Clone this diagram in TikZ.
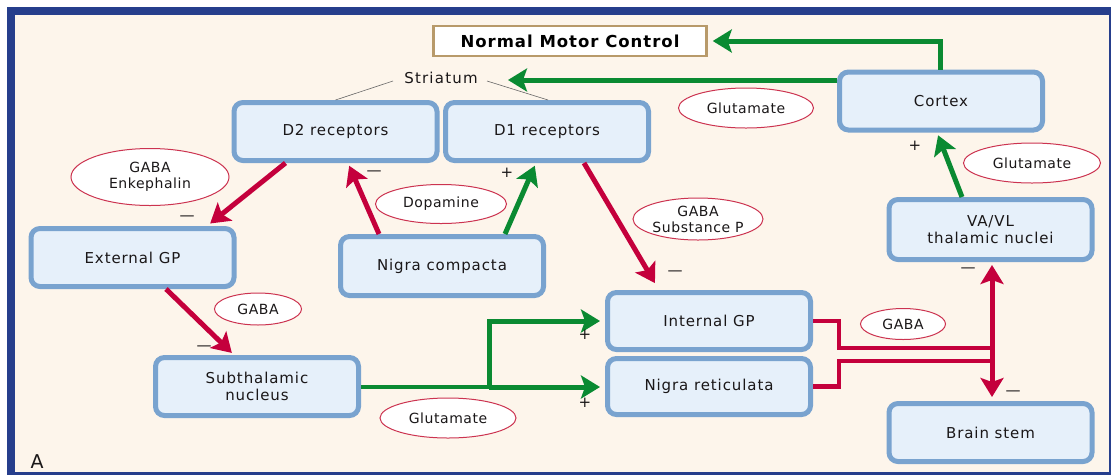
\documentclass[tikz,border=0pt]{standalone}
\usepackage{fontspec}
\setmainfont{DejaVu Sans}
\newfontfamily\bxf[LetterSpace=6]{DejaVu Sans}
\newfontfamily\elf[LetterSpace=4]{DejaVu Sans}
\newfontfamily\nmcf[LetterSpace=6]{DejaVu Sans}
\newfontfamily\strf[LetterSpace=8]{DejaVu Sans}
\usetikzlibrary{arrows.meta,shapes.geometric,calc}
\definecolor{frameblue}{HTML}{263E8C}
\definecolor{cream}{HTML}{FDF5EB}
\definecolor{boxblue}{HTML}{79A3CF}
\definecolor{boxfill}{HTML}{E6F0FA}
\definecolor{tan}{HTML}{B89A6A}
\definecolor{grn}{HTML}{0A8A32}
\definecolor{rd}{HTML}{C4003C}
\definecolor{ellred}{HTML}{CC3350}
\definecolor{txt}{HTML}{1A1718}
\tikzset{
  box/.style={draw=boxblue, fill=boxfill, line width=5pt, rounded corners=9pt,
    minimum width=203pt, minimum height=58pt, align=center, text=txt,
    font=\bxf\fontsize{15}{17}\selectfont},
  lbl/.style={ellipse, draw=ellred, line width=1pt, fill=white, inner sep=0pt,
    align=center, text=txt, font=\elf\fontsize{14}{16}\selectfont},
  sign/.style={text=txt, inner sep=0pt, font=\fontsize{15}{15}\selectfont},
  tipstyle/.style={-{Stealth[length=19pt,width=23pt,inset=4pt]}},
  garrow/.style={draw=grn, line width=5pt, tipstyle},
  rarrow/.style={draw=rd, line width=5pt, tipstyle},
  rline/.style={draw=rd, line width=4.5pt},
  gline/.style={draw=grn, line width=4.5pt},
}
\begin{document}
\begin{tikzpicture}[x=1pt,y=-1pt]
\useasboundingbox (0,0) rectangle (1111,475);
\fill[white] (0,0) rectangle (1111,475);
\fill[frameblue] (7,7) rectangle (1111,475);
\fill[cream] (15,15) rectangle (1109,472);

% boxes
\node[draw=tan, fill=white, line width=2.5pt, minimum width=273pt, minimum height=30pt,
  inner sep=0pt, text=black, font=\nmcf\bfseries\fontsize{16.5}{18}\selectfont] (nmc) at (570,41) {Normal Motor Control};
\node[box] (d2) at (335.5,131.5) {D2 receptors};
\node[box] (d1) at (547,131.5) {D1 receptors};
\node[box] (cortex) at (941,101) {Cortex};
\node[box, minimum height=60pt] (vavl) at (990.5,229.5) {VA/VL\\thalamic nuclei};
\node[box] (extgp) at (132.5,257.5) {External GP};
\node[box, minimum height=59pt] (nc) at (442,266) {Nigra compacta};
\node[box, minimum height=57pt] (intgp) at (709,321) {Internal GP};
\node[box, minimum height=56pt] (nr) at (709,386.5) {Nigra reticulata};
\node[box] (sub) at (257,386.5) {Subthalamic\\nucleus};
\node[box] (bs) at (990.5,432.5) {Brain stem};

% striatum
\node[text=txt, inner sep=0pt, font=\strf\fontsize{15}{17}\selectfont] (striatum) at (441,78) {Striatum};
\coordinate (strl) at (393,81);
\coordinate (strr) at (487,81);
\coordinate (strtip) at (508,80);
\draw[gray!80!black, line width=0.6pt] (strl) -- (d2.north);
\draw[gray!80!black, line width=0.6pt] (strr) -- ([xshift=1pt]d1.north);

% labels
\node[lbl, minimum width=135pt, minimum height=40pt] (glu1) at (746,108) {Glutamate};
\node[lbl, minimum width=158pt, minimum height=57pt] (gabaenk) at (150,177) {GABA\\Enkephalin};
\node[lbl, minimum width=131pt, minimum height=39pt] (dopa) at (441,204) {Dopamine};
\node[lbl, minimum width=130pt, minimum height=42pt] (gabasp) at (698,219) {GABA\\Substance P};
\node[lbl, minimum width=137pt, minimum height=40pt] (glu2) at (1032,163) {Glutamate};
\node[lbl, minimum width=87pt, minimum height=32pt] (gaba1) at (258,309) {GABA};
\node[lbl, minimum width=85pt, minimum height=31pt] (gaba2) at (903,324) {GABA};
\node[lbl, minimum width=136pt, minimum height=40pt] (glu3) at (448,418) {Glutamate};

% green connectors
\draw[garrow, shorten >=5pt] ([xshift=-1pt]cortex.north) |- (nmc.east);
\draw[garrow] (cortex.west |- strtip) -- (strtip);
\draw[garrow, shorten >=3pt] ([xshift=63pt]nc.north) -- ([xshift=-11pt]d1.south);
\draw[garrow, shorten >=3pt] ([xshift=-28.5pt]vavl.north) -- ([xshift=-4pt]cortex.south);
\coordinate (br) at (489,387);
\draw[gline] (sub.east |- br) -- (br);
\draw[garrow, shorten >=5pt] (br) |- (intgp.west);
\draw[garrow, shorten >=5pt] (br) -- (nr.west |- br);

% red connectors
\draw[rarrow, shorten >=4pt] ([xshift=-50pt]d2.south) -- ([xshift=74.5pt]extgp.north);
\draw[rarrow, shorten >=3pt] ([xshift=-63pt]nc.north) -- ([xshift=12.5pt]d2.south);
\draw[rarrow, shorten >=8pt] ([xshift=37pt]d1.south) -- ([xshift=-50pt]intgp.north);
\draw[rarrow, shorten >=3pt] ([xshift=33.5pt]extgp.south) -- ([xshift=-23pt]sub.north);
\coordinate (ja) at (992,348);
\coordinate (jb) at (992,361);
\coordinate (vtop) at (992,262);
\coordinate (vbot) at (992,401);
\draw[rline] (intgp.east) -- ++(26,0) |- (ja);
\draw[rline] (nr.east) -- ++(26,0) |- (jb);
\draw[draw=rd, line width=5pt, {Stealth[length=19pt,width=23pt,inset=4pt]}-{Stealth[length=19pt,width=23pt,inset=4pt]}, shorten <=3pt, shorten >=4pt] (vtop) -- (vbot);

% signs
\node[sign] (m1) at (187,218) {—};
\node[sign] (m2) at (374,173) {—};
\node[sign] (p1) at (507,173) {+};
\node[sign] (m3) at (675,273) {—};
\node[sign] (p2) at (915,146) {+};
\node[sign] (m4) at (968,270) {—};
\node[sign] (m5) at (204,348) {—};
\node[sign] (p3) at (585,335) {+};
\node[sign] (p4) at (585,403) {+};
\node[sign] (m6) at (1013,393) {—};

\node[text=txt, inner sep=0pt, font=\fontsize{19}{19}\selectfont] (A) at (37,462) {A};
\end{tikzpicture}
\end{document}
